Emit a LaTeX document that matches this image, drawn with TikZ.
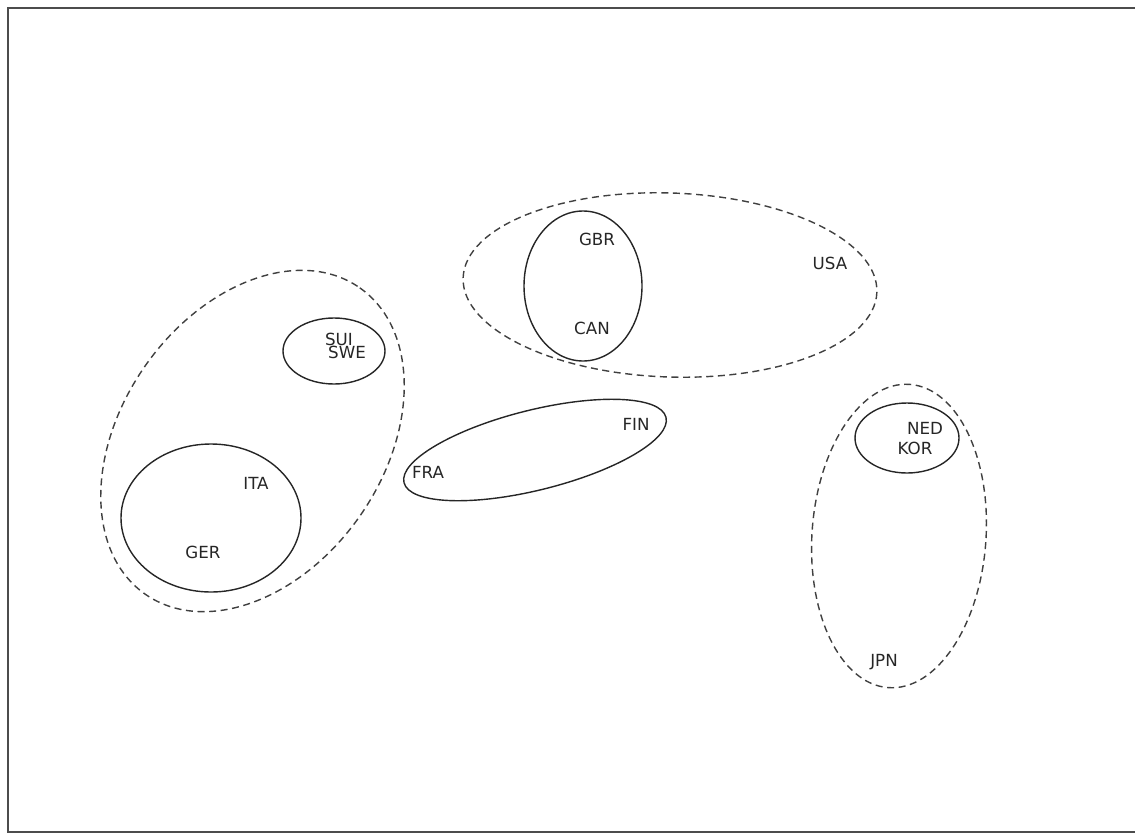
\documentclass[tikz,border=0pt]{standalone}
\usepackage{fontspec}
\setmainfont{DejaVu Sans}
\begin{document}
\begin{tikzpicture}[x=0.02cm,y=-0.02cm,
  solidell/.style={draw=black!85,line width=0.8pt},
  dashell/.style={draw=black!75,line width=0.8pt,dash pattern=on 4pt off 2.6pt},
  lbl/.style={font=\fontsize{9.5}{10}\selectfont,inner sep=0pt,text=black!85},
  frameline/.style={draw=black!70,line width=1.4pt}]
\useasboundingbox (0,0) rectangle (1135,835);
% frame
\coordinate (fTR) at (1140,8);
\coordinate (fTL) at (8,8);
\coordinate (fBL) at (8,832);
\coordinate (fBR) at (1140,832);
\draw[frameline] (fTR) -- (fTL) -- (fBL) -- (fBR);
% group ellipses
\draw[dashell] (252.5,441) ellipse[x radius=187,y radius=131,rotate=55];
\draw[solidell] (211,518) ellipse[x radius=90,y radius=74];
\draw[solidell] (334,351) ellipse[x radius=51,y radius=33];
\draw[solidell] (535,450) ellipse[x radius=135,y radius=40,rotate=14];
\draw[dashell] (670,285) ellipse[x radius=207,y radius=92,rotate=-2];
\draw[solidell] (583,286) ellipse[x radius=59,y radius=75];
\draw[dashell] (899,536) ellipse[x radius=87,y radius=152,rotate=-4];
\draw[solidell] (907,438) ellipse[x radius=52,y radius=35];
% labels
\node[lbl] (gbr) at (597,239) {GBR};
\node[lbl] (can) at (592,328) {CAN};
\node[lbl] (usa) at (830,263) {USA};
\node[lbl] (sui) at (339,339) {SUI};
\node[lbl] (swe) at (347,352) {SWE};
\node[lbl] (fin) at (636,424) {FIN};
\node[lbl] (fra) at (428,472) {FRA};
\node[lbl] (ita) at (256,483) {ITA};
\node[lbl] (ger) at (203,552) {GER};
\node[lbl] (ned) at (925,428) {NED};
\node[lbl] (kor) at (915,448) {KOR};
\node[lbl] (jpn) at (884,662) {JPN};
\end{tikzpicture}
\end{document}
